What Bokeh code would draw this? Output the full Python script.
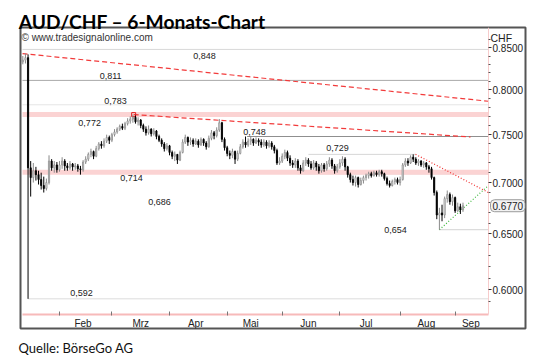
import numpy as np
import pandas as pd
from bokeh.plotting import figure
from bokeh.models import (Range1d, FixedTicker, PrintfTickFormatter, Label, ColumnDataSource)
from bokeh.core.properties import value
from bokeh.embed import file_html
from bokeh.resources import INLINE

# ---------------- data ----------------
first_day = "2015-01-13"
first_open = 0.833
close = [0.835, 0.838, 0.715, 0.705, 0.712, 0.708, 0.703, 0.697, 0.694, 0.700,
         0.722, 0.715, 0.718, 0.713, 0.718, 0.722, 0.717, 0.715, 0.719, 0.716,
         0.717, 0.714, 0.713, 0.721, 0.724, 0.729, 0.732, 0.727, 0.735, 0.740,
         0.738, 0.743, 0.747, 0.744, 0.750, 0.753, 0.756, 0.759, 0.757, 0.762,
         0.765, 0.767, 0.769, 0.764, 0.766, 0.760, 0.756, 0.752, 0.756, 0.751,
         0.754, 0.748, 0.744, 0.740, 0.735, 0.738, 0.731, 0.727, 0.729, 0.723,
         0.731, 0.742, 0.747, 0.742, 0.744, 0.740, 0.743, 0.739, 0.745, 0.741,
         0.737, 0.746, 0.752, 0.749, 0.755, 0.763, 0.745, 0.736, 0.730, 0.728,
         0.732, 0.724, 0.730, 0.737, 0.742, 0.739, 0.743, 0.745, 0.741, 0.744,
         0.742, 0.739, 0.742, 0.738, 0.741, 0.737, 0.733, 0.720, 0.722, 0.727,
         0.731, 0.725, 0.720, 0.718, 0.722, 0.715, 0.712, 0.720, 0.723, 0.719,
         0.715, 0.720, 0.716, 0.712, 0.718, 0.714, 0.719, 0.723, 0.717, 0.712,
         0.716, 0.720, 0.724, 0.716, 0.708, 0.703, 0.700, 0.705, 0.698, 0.702,
         0.705, 0.707, 0.709, 0.707, 0.710, 0.708, 0.711, 0.709, 0.704, 0.699,
         0.697, 0.701, 0.703, 0.700, 0.703, 0.718, 0.722, 0.720, 0.726, 0.724,
         0.720, 0.722, 0.718, 0.720, 0.716, 0.714, 0.705, 0.690, 0.668, 0.670,
         0.668, 0.684, 0.688, 0.681, 0.685, 0.672, 0.676, 0.673, 0.677]
high = [0.840, 0.843, 0.842, 0.722, 0.720, 0.716, 0.712, 0.710, 0.706, 0.704,
        0.728, 0.724, 0.722, 0.721, 0.722, 0.726, 0.724, 0.720, 0.722, 0.720,
        0.720, 0.719, 0.717, 0.723, 0.727, 0.731, 0.735, 0.733, 0.738, 0.742,
        0.743, 0.746, 0.750, 0.749, 0.752, 0.756, 0.758, 0.761, 0.762, 0.764,
        0.768, 0.770, 0.772, 0.771, 0.769, 0.767, 0.762, 0.759, 0.760, 0.757,
        0.757, 0.755, 0.750, 0.746, 0.742, 0.741, 0.739, 0.733, 0.732, 0.729,
        0.733, 0.745, 0.750, 0.748, 0.747, 0.746, 0.746, 0.745, 0.747, 0.746,
        0.743, 0.749, 0.755, 0.754, 0.758, 0.767, 0.764, 0.747, 0.738, 0.733,
        0.735, 0.733, 0.733, 0.740, 0.745, 0.748, 0.746, 0.748, 0.746, 0.747,
        0.746, 0.745, 0.745, 0.744, 0.744, 0.743, 0.739, 0.735, 0.726, 0.730,
        0.734, 0.733, 0.728, 0.723, 0.725, 0.724, 0.718, 0.723, 0.726, 0.725,
        0.722, 0.723, 0.722, 0.719, 0.720, 0.720, 0.722, 0.726, 0.725, 0.719,
        0.719, 0.724, 0.727, 0.726, 0.717, 0.710, 0.707, 0.707, 0.706, 0.705,
        0.707, 0.709, 0.711, 0.711, 0.712, 0.712, 0.713, 0.713, 0.710, 0.706,
        0.702, 0.703, 0.705, 0.705, 0.706, 0.720, 0.725, 0.725, 0.728, 0.729,
        0.726, 0.724, 0.723, 0.722, 0.721, 0.718, 0.716, 0.706, 0.692, 0.675,
        0.678, 0.686, 0.692, 0.690, 0.688, 0.686, 0.680, 0.679, 0.680]
low = [0.830, 0.831, 0.592, 0.686, 0.700, 0.702, 0.698, 0.693, 0.690, 0.692,
       0.698, 0.712, 0.710, 0.710, 0.711, 0.714, 0.712, 0.712, 0.713, 0.712,
       0.713, 0.711, 0.708, 0.711, 0.719, 0.722, 0.726, 0.724, 0.726, 0.733,
       0.735, 0.736, 0.741, 0.740, 0.742, 0.748, 0.751, 0.754, 0.755, 0.755,
       0.760, 0.762, 0.763, 0.762, 0.760, 0.757, 0.753, 0.749, 0.750, 0.748,
       0.749, 0.745, 0.742, 0.737, 0.732, 0.733, 0.728, 0.724, 0.722, 0.719,
       0.722, 0.730, 0.740, 0.738, 0.739, 0.737, 0.739, 0.736, 0.738, 0.738,
       0.734, 0.736, 0.744, 0.745, 0.747, 0.753, 0.742, 0.733, 0.727, 0.724,
       0.725, 0.719, 0.722, 0.729, 0.735, 0.736, 0.737, 0.739, 0.738, 0.740,
       0.738, 0.736, 0.737, 0.735, 0.736, 0.734, 0.730, 0.718, 0.718, 0.720,
       0.724, 0.722, 0.717, 0.715, 0.715, 0.712, 0.709, 0.711, 0.717, 0.716,
       0.713, 0.713, 0.712, 0.709, 0.710, 0.711, 0.712, 0.716, 0.714, 0.709,
       0.710, 0.714, 0.717, 0.712, 0.705, 0.700, 0.697, 0.696, 0.695, 0.697,
       0.699, 0.702, 0.704, 0.705, 0.706, 0.706, 0.706, 0.706, 0.702, 0.697,
       0.695, 0.696, 0.698, 0.698, 0.697, 0.702, 0.716, 0.717, 0.719, 0.721,
       0.718, 0.717, 0.716, 0.715, 0.713, 0.710, 0.703, 0.687, 0.664, 0.654,
       0.662, 0.665, 0.680, 0.678, 0.677, 0.670, 0.671, 0.669, 0.671]

level_values = [0.848, 0.811, 0.783, 0.772, 0.748, 0.729, 0.714, 0.686, 0.654, 0.592]
level_texts = ["0,848", "0,811", "0,783", "0,772", "0,748", "0,729", "0,714", "0,686", "0,654", "0,592"]
last_price = 0.6770
last_price_text = "0.6770"
y_ticks = [0.60, 0.65, 0.70, 0.75, 0.80, 0.85]
y_minor = [0.59, 0.61, 0.62, 0.63, 0.64, 0.66, 0.67, 0.68, 0.69, 0.71, 0.72, 0.73,
           0.74, 0.76, 0.77, 0.78, 0.79, 0.81, 0.82, 0.83, 0.84, 0.86]
month_names = ["Feb", "Mrz", "Apr", "Mai", "Jun", "Jul", "Aug", "Sep"]

# horizontal support/resistance lines
hline_values = [0.848, 0.811, 0.783, 0.748, 0.729, 0.709, 0.654, 0.592]
# pink zones
zone_values = [0.772, 0.7105]
# trend lines (start/end points)
trend1 = ([0.9, 178.7], [0.843, 0.787])
trend2 = ([43.3, 171.9], [0.772, 0.7475])
trend3 = ([150.9, 178.7], [0.729, 0.690])
trend4 = ([160.0, 178.7], [0.654, 0.697])
peak_mark = ([43.3], [0.772])

# ---------------- layout values ----------------
X_LO, X_HI = 0.88, 178.74          # extent of the price area (trading-day index)
XR_LO, XR_HI = 0.115, 192.86       # whole boxed area
Y_AX = 0.5788                      # level of the time axis
YR_LO, YR_HI = 0.56723, 0.87523    # whole boxed area (log)
hline_start = [X_LO, X_LO, X_LO, 86.6, 110.0, 105.9, 160.0, 3.0]
hline_end = [X_HI, X_HI, X_HI, X_HI, 150.9, X_HI, X_HI, X_HI]
hline_colors = ["#d9d9d9", "#a9a9a9", "#e6e6e6", "#8f8f8f", "#d6d6d6", "#a8a8a8", "#d4d4d4", "#dcdcdc"]
label_x = [70.3, 34.5, 36.4, 26.5, 89.4, 121.1, 42.5, 53.2, 143.2, 23.4]
label_dy = [7, -4, -4, 8, -5, -6, 9, 5, 0, -6]
month_label_x = [24, 46, 67, 88, 110, 132, 155, 172]

# ---------------- derived ----------------
n = len(close)
dates = pd.bdate_range(first_day, periods=n)
base = np.datetime64("2015-01-12")
xs = [int(np.busday_count(base, np.datetime64(d.date()))) for d in dates]
opens = [first_open] + close[:-1]
inc = [c >= o for c, o in zip(close, opens)]
src = ColumnDataSource(dict(
    x=xs, high=high, low=low,
    top=[max(o, c) for o, c in zip(opens, close)],
    bottom=[min(o, c) for o, c in zip(opens, close)],
    fill=["#ffffff" if u else "#000000" for u in inc],
    edge=["#8a8a8a" if u else "#000000" for u in inc],
))
month_starts = []
seen = set()
for xi, d in zip(xs, dates):
    if d.month != 1 and d.month not in seen:
        seen.add(d.month)
        month_starts.append(xi)

W, H = 534, 359
p = figure(width=W, height=H, output_backend="svg", toolbar_location=None,
           y_axis_type="log", y_axis_location="right",
           x_range=Range1d(XR_LO, XR_HI), y_range=Range1d(YR_LO, YR_HI),
           min_border_left=20, min_border_top=27, min_border_right=9,
           min_border_bottom=31)
p.outline_line_color = "#555555"
p.outline_line_width = 2
p.grid.visible = False
p.background_fill_color = "white"
p.border_fill_color = "white"

# levels
p.segment(x0=hline_start, x1=hline_end, y0=hline_values, y1=hline_values,
          line_color=hline_colors, line_width=1)
p.segment(x0=[X_LO] * len(zone_values), x1=[X_HI] * len(zone_values),
          y0=zone_values, y1=zone_values, line_color="#fbd3d3", line_width=5)

# trend lines
p.line(trend1[0], trend1[1], line_color="#f23a3a", line_width=1.2, line_dash="5 3")
p.line(trend2[0], trend2[1], line_color="#f23a3a", line_width=1.2, line_dash="5 3")
p.line(trend3[0], trend3[1], line_color="#f03030", line_width=1.2, line_dash="1 2")
p.line(trend4[0], trend4[1], line_color="#3cb83c", line_width=1.2, line_dash="1 2")
p.scatter(peak_mark[0], peak_mark[1], marker="square", size=4, fill_color=None,
          line_color="#e02020", line_width=1)

# candles
p.segment(x0="x", x1="x", y0="high", y1="low", line_color="edge", line_width=1, source=src)
p.vbar(x="x", width=0.45, top="top", bottom="bottom", fill_color="fill",
       line_color="edge", line_width=0.8, source=src)

# level labels
p.text(x=label_x, y=level_values, text=level_texts, y_offset=label_dy,
       text_font=value("Liberation Sans"), text_font_size="9px", text_color="#222222",
       text_align="center", text_baseline="middle")

# axes (drawn inside the boxed area)
xa = p.xaxis[0]
xa.fixed_location = Y_AX
xa.bounds = (X_LO, X_HI)
xa.ticker = FixedTicker(ticks=month_label_x, minor_ticks=month_starts)
xa.major_label_overrides = {k: v for k, v in zip(month_label_x, month_names)}
xa.major_tick_in = 0
xa.major_tick_out = 0
xa.minor_tick_in = 3
xa.minor_tick_out = 1
xa.minor_tick_line_color = "#777777"
xa.axis_line_color = "#f7baba"
xa.axis_line_width = 2
xa.major_label_text_font = "Liberation Sans"
xa.major_label_text_font_size = "10px"
xa.major_label_text_color = "#222222"
xa.major_label_standoff = 3

ya = p.yaxis[0]
ya.fixed_location = X_HI
ya.bounds = (Y_AX, YR_HI)
ya.ticker = FixedTicker(ticks=y_ticks, minor_ticks=y_minor)
ya.formatter = PrintfTickFormatter(format="%.4f")
ya.axis_line_color = "#f7cccc"
ya.axis_line_width = 1
ya.major_tick_in = 0
ya.major_tick_out = 3
ya.major_tick_line_color = "#333333"
ya.minor_tick_in = 0
ya.minor_tick_out = 2
ya.minor_tick_line_color = "#555555"
ya.major_label_standoff = 1
ya.major_label_text_font = "Liberation Sans"
ya.major_label_text_font_size = "10px"
ya.major_label_text_color = "#222222"

# texts inside the box
p.add_layout(Label(x=21.0, y=37, x_units="canvas", y_units="canvas",
                   text="\u00a9 www.tradesignalonline.com", text_font="Liberation Sans",
                   text_font_size="10px", text_color="#333333", text_baseline="alphabetic"))
p.add_layout(Label(x=490, y=37, x_units="canvas", y_units="canvas",
                   text="CHF", text_font="Liberation Sans",
                   text_font_size="10.5px", text_color="#222222", text_baseline="alphabetic"))
p.add_layout(Label(x=490, y=last_price, x_units="canvas", y_units="data",
                   text=last_price_text, text_font="Liberation Sans",
                   text_font_size="10px", text_color="#222222", text_baseline="middle",
                   border_line_color="#9a9a9a", background_fill_color="#f2f2f2",
                   padding=2, border_radius=4))

# title and source line (outside the box)
p.add_layout(Label(x=18.3, y=20.7, x_units="canvas", y_units="canvas",
                   text="AUD/CHF \u2013 6-Monats-Chart", text_font="Lato",
                   text_font_style="bold", text_font_size="19.2px", text_color="#000000",
                   text_baseline="alphabetic"), "above")
p.add_layout(Label(x=18.0, y=347, x_units="canvas", y_units="canvas",
                   text="Quelle: B\u00f6rseGo AG", text_font="Lato",
                   text_font_size="13px", text_color="#111111", text_baseline="alphabetic"),
             "below")

open("out.html", "w").write(file_html(p, INLINE))
